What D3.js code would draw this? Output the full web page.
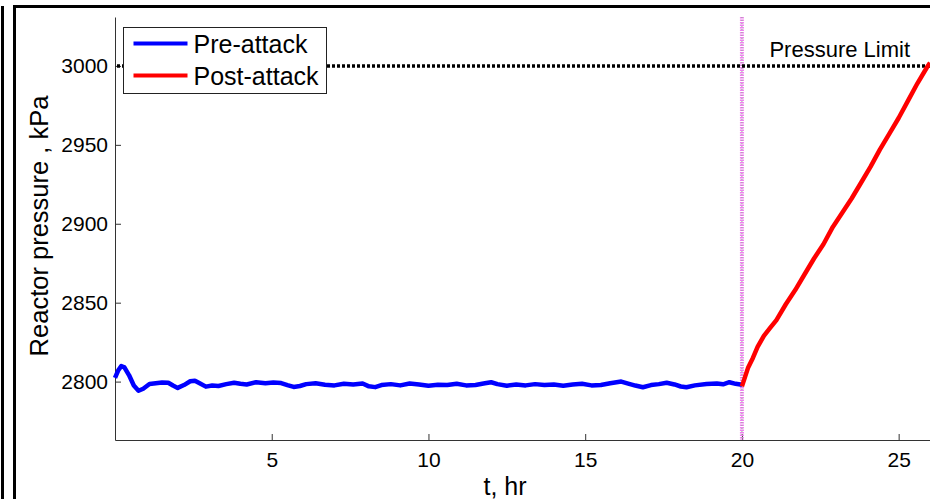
<!DOCTYPE html>
<html>
<head>
<meta charset="utf-8">
<script src="https://cdn.jsdelivr.net/npm/d3@7"></script>
<style>
    body { margin: 0; background: #fff; }
    svg { display: block; font-family: "Liberation Sans", Arial, sans-serif; }
    .axis text { font-size: 21px; fill: #000; }
    .axis path, .axis line { stroke: #333; }
</style>
</head>
<body>
<div id="chart"></div>
<script>
// pre-attack reactor pressure (kPa)
const preTime = [0, 0.1, 0.2, 0.3, 0.45, 0.6, 0.75, 0.9, 1.1, 1.3, 1.5, 1.7, 1.85, 2.0, 2.2, 2.4, 2.55, 2.7, 2.9,
    3.1, 3.3, 3.55, 3.8, 4.0, 4.2, 4.5, 4.8, 5.05, 5.3, 5.5, 5.7, 5.9, 6.1, 6.4, 6.7, 7.0, 7.3, 7.6, 7.9,
    8.1, 8.3, 8.5, 8.8, 9.1, 9.4, 9.7, 10.0, 10.3, 10.6, 10.9, 11.2, 11.5, 11.8, 12.0, 12.2, 12.5, 12.8,
    13.1, 13.4, 13.7, 14.0, 14.3, 14.6, 14.9, 15.2, 15.5, 15.8, 16.15, 16.4, 16.6, 16.84, 17.1, 17.35,
    17.6, 17.85, 18.05, 18.23, 18.5, 18.87, 19.2, 19.4, 19.6, 19.8, 20.0];
const prePressure = [2802.3, 2807, 2809.8, 2809, 2804, 2797.5, 2794.2, 2795.5, 2798.5, 2799, 2799.4, 2799.3,
    2797.5, 2796, 2797.8, 2800.2, 2800.6, 2799, 2796.8, 2797.5, 2797.2, 2798.4, 2799.3, 2798.6, 2798.2,
    2799.6, 2799, 2799.4, 2799.1, 2797.8, 2796.6, 2797.2, 2798.4, 2798.9, 2798, 2797.6, 2798.6, 2798.1,
    2798.8, 2797, 2796.5, 2797.8, 2798.4, 2797.6, 2798.8, 2798.2, 2797.4, 2798.0, 2797.8, 2798.6, 2797.6,
    2797.9, 2798.9, 2799.6, 2798.4, 2797.4, 2798.1, 2797.6, 2798.4, 2797.8, 2798.2, 2797.4, 2798.1, 2798.6,
    2797.6, 2797.8, 2799, 2800, 2798.6, 2797.5, 2796.4, 2797.8, 2798.4, 2799.3, 2798.2, 2796.9, 2796.4,
    2797.6, 2798.5, 2798.8, 2798.3, 2799.6, 2798.6, 2798];

// post-attack reactor pressure (kPa)
const postTime = [20.0, 20.1, 20.2, 20.35, 20.5, 20.7, 20.9, 21.1, 21.4, 21.7, 22.0, 22.3, 22.6, 22.9,
    23.2, 23.5, 23.8, 24.1, 24.4, 24.7, 25.0, 25.3, 25.6, 25.9, 26.0];
const postPressure = [2797, 2803, 2809, 2815, 2822, 2829, 2834, 2839, 2849, 2858, 2868, 2878, 2887, 2898,
    2907, 2916, 2926, 2936, 2947, 2957, 2967, 2978, 2989, 2999, 3002];

const xTicks = [5, 10, 15, 20, 25];
const yTicks = [2800, 2850, 2900, 2950, 3000];
const pressureLimit = 3000;
const attackTime = 20;
const seriesNames = ['Pre-attack', 'Post-attack'];
const seriesColors = ['#0000ff', '#ff0000'];

const width = 930, height = 499;
const svg = d3.select('#chart').append('svg')
    .attr('width', width)
    .attr('height', height);

// figure frame lines
svg.append('line').attr('x1', 2.5).attr('x2', 2.5).attr('y1', 6).attr('y2', height)
    .attr('stroke', '#000').attr('stroke-width', 3);
svg.append('line').attr('x1', 14.5).attr('x2', 14.5).attr('y1', 5).attr('y2', height)
    .attr('stroke', '#000').attr('stroke-width', 3);
svg.append('line').attr('x1', 13).attr('x2', width).attr('y1', 6.5).attr('y2', 6.5)
    .attr('stroke', '#000').attr('stroke-width', 3);

const xScale = d3.scaleLinear().domain([0, 26]).range([115, 930]);
const yScale = d3.scaleLinear().domain([2763, 3031]).range([440, 17]);

// axes, MATLAB style ticks pointing inwards
const xAxisG = svg.append('g')
    .attr('class', 'axis x-axis')
    .attr('transform', `translate(0,${yScale.range()[0]})`)
    .call(d3.axisBottom(xScale).tickValues(xTicks).tickFormat(d3.format('d'))
        .tickSize(-6).tickSizeOuter(0).tickPadding(12));

svg.append('g')
    .attr('class', 'axis y-axis')
    .attr('transform', `translate(${xScale.range()[0]},0)`)
    .call(d3.axisLeft(yScale).tickValues(yTicks).tickFormat(d3.format('d'))
        .tickSize(-6).tickSizeOuter(0).tickPadding(7));

// axis titles
svg.append('text')
    .attr('x', 505).attr('y', 495)
    .attr('text-anchor', 'middle')
    .style('font-size', '25px')
    .text('t, hr');

svg.append('text')
    .attr('transform', `translate(48,${226}) rotate(-90)`)
    .attr('text-anchor', 'middle')
    .style('font-size', '25.5px')
    .text('Reactor pressure , kPa');

// attack time marker
svg.append('line')
    .attr('x1', xScale(attackTime)).attr('x2', xScale(attackTime))
    .attr('y1', yScale.range()[1]).attr('y2', yScale.range()[0])
    .attr('stroke', '#ee82ee').attr('stroke-width', 4)
    .attr('stroke-dasharray', '1.5,1');
svg.append('line')
    .attr('x1', xScale(attackTime)).attr('x2', xScale(attackTime))
    .attr('y1', yScale.range()[1]).attr('y2', yScale.range()[0])
    .attr('stroke', '#98a898').attr('stroke-width', 1)
    .attr('stroke-dasharray', '1,2');

// pressure limit
svg.append('line')
    .attr('x1', xScale(0) + 2).attr('x2', width)
    .attr('y1', yScale(pressureLimit)).attr('y2', yScale(pressureLimit))
    .attr('stroke', '#000').attr('stroke-width', 3.5)
    .attr('stroke-dasharray', '3,2');
svg.append('text')
    .attr('x', 910).attr('y', 57)
    .attr('text-anchor', 'end')
    .style('font-size', '22px')
    .text('Pressure Limit');

const line = d3.line()
    .x(d => xScale(d[0]))
    .y(d => yScale(d[1]))
    .curve(d3.curveLinear);

const preData = preTime.map((t, i) => [t, prePressure[i]]);
const postData = postTime.map((t, i) => [t, postPressure[i]]);

svg.selectAll('.series')
    .data([preData, postData])
    .join('path')
    .attr('class', 'series')
    .attr('fill', 'none')
    .attr('stroke', (d, i) => seriesColors[i])
    .attr('stroke-width', 4.5)
    .attr('stroke-linejoin', 'round')
    .attr('d', line);

// legend
const legend = svg.append('g').attr('transform', 'translate(123.5,27.5)');
legend.append('rect')
    .attr('width', 203).attr('height', 66)
    .attr('fill', '#fff').attr('stroke', '#222').attr('stroke-width', 1);
seriesNames.forEach((name, i) => {
    const yPos = 16 + i * 32;
    legend.append('line')
        .attr('x1', 10).attr('x2', 64)
        .attr('y1', yPos).attr('y2', yPos)
        .attr('stroke', seriesColors[i]).attr('stroke-width', 4);
    legend.append('text')
        .attr('x', 70).attr('y', yPos + 9)
        .style('font-size', '25px')
        .text(name);
});
</script>
</body>
</html>
